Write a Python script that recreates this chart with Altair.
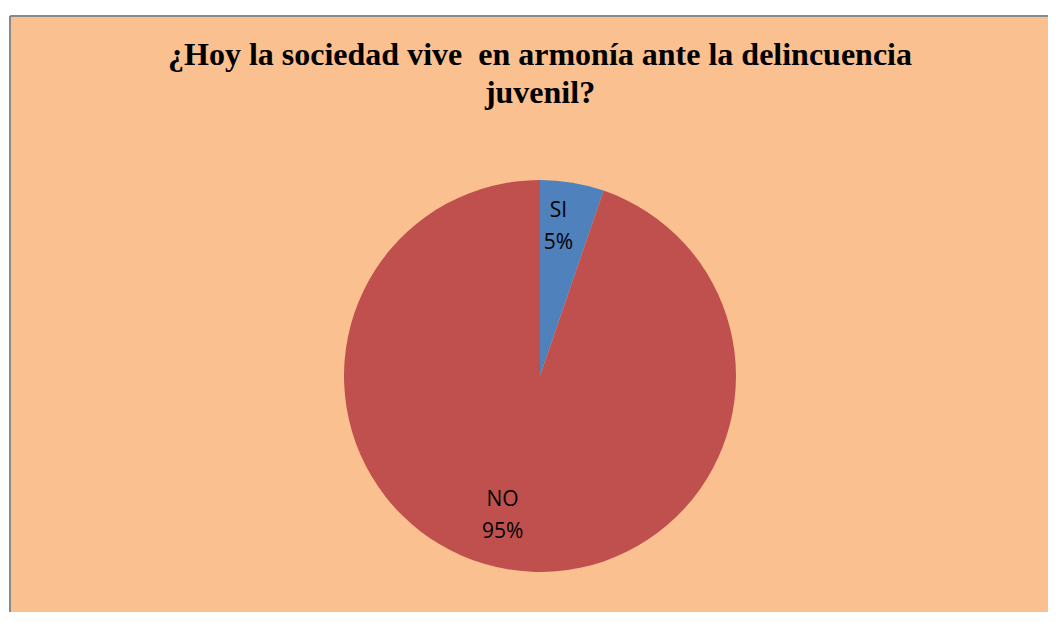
import altair as alt
import pandas as pd

categories = ["SI", "NO"]
counts = [2, 36]
pct_labels = ["5%", "95%"]
colors = ["#4F81BD", "#C0504D"]
title_lines = ["¿Hoy la sociedad vive\u00a0 en armonía ante la delincuencia", "juvenil?"]

df = pd.DataFrame({
    "cat": categories,
    "n": counts,
    "label": [f"{c}\n{p}" for c, p in zip(categories, pct_labels)],
    "order": [0, 1],
})

W, H = 1038, 596
cx, cy, R = 530, 360, 196

pie = alt.Chart(df).mark_arc(outerRadius=R).encode(
    theta=alt.Theta("n:Q", stack=True),
    order=alt.Order("order:Q"),
    x=alt.value(cx), y=alt.value(cy),
    color=alt.Color("cat:N", scale=alt.Scale(domain=categories, range=colors), legend=None),
)

txt_style = dict(fontSize=21, font="Open Sans", lineBreak="\n", lineHeight=32,
                 color="black", baseline="middle")

stacked = alt.Chart(df).transform_stack(
    stack="n", groupby=[], as_=["s0", "s1"], sort=[alt.SortField("order")]
).transform_calculate(mid="(datum.s0 + datum.s1) / 2")

text_si = stacked.transform_filter(alt.datum.cat == "SI").mark_text(
    radius=167, dx=-9, **txt_style).encode(
    theta=alt.Theta("mid:Q", stack=None),
    x=alt.value(cx), y=alt.value(cy), text="label:N",
)

text_no = stacked.transform_filter(alt.datum.cat == "NO").mark_text(
    radius=130, dx=-16, dy=-4, **txt_style).encode(
    theta=alt.Theta("mid:Q", stack=None),
    x=alt.value(cx), y=alt.value(cy), text="label:N",
)

border_left = alt.Chart(df).mark_rule(color="#898989", strokeWidth=2).encode(
    x=alt.value(0), y=alt.value(0), y2=alt.value(H + 10))
border_top = alt.Chart(df).mark_rule(color="#898989", strokeWidth=2).encode(
    y=alt.value(0), x=alt.value(0), x2=alt.value(W + 10))

chart = (pie + text_si + text_no + border_left + border_top).properties(
    width=W, height=H,
    title=alt.Title(title_lines, anchor="middle", baseline="top", offset=0, dy=95, dx=11),
).configure(
    background="white",
    padding={"left": 2, "top": 8, "right": 0, "bottom": 0},
    autosize=alt.AutoSizeParams(type="none"),
).configure_title(
    font="Liberation Serif", fontSize=32, fontWeight="bold", color="black", lineHeight=38,
).configure_view(fill="#FAC090", stroke=None)

chart.save("out.html", embed_options={"renderer": "svg", "actions": False})
